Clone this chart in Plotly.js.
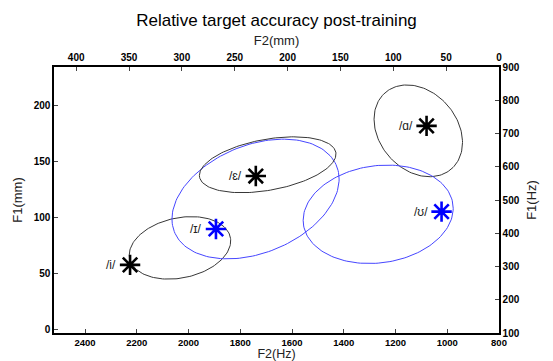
<!DOCTYPE html>
<html>
<head>
<meta charset="utf-8">
<script src="https://cdn.plot.ly/plotly-3.0.1.min.js"></script>
<style>html,body{margin:0;padding:0;background:#fff;}#chart{width:553px;height:361px;}</style>
</head>
<body>
<div id="chart"></div>
<script>
// Vowel targets (F2 in Hz, F1 in Hz)
const vowels = ['/i/', '/ɪ/', '/ɛ/', '/ɑ/', '/ʊ/'];
const f2Hz = [2226, 1894, 1740, 1080, 1022];
const f1Hz = [305, 413, 572, 723, 465];
const vowelColors = ['black', 'blue', 'black', 'black', 'blue'];

// Ellipses: centre, half-width (F2), half-height (F1), F1 offset at the max-F2 point
const ellCx = [2033, 1741, 1694, 1112, 1267];
const ellCy = [356, 503, 606, 708, 457];
const ellHx = [196, 323, 264, 171, 290];
const ellHy = [94, 180, 84, 138, 148];
const ellRy = [-21, -60, -32, 35, -18];
const ellColors = ['rgb(55,55,55)', 'rgb(70,70,255)', 'rgb(55,55,55)', 'rgb(55,55,55)', 'rgb(70,70,255)'];

// Axis ticks
const f2HzTicks = [2400, 2200, 2000, 1800, 1600, 1400, 1200, 1000, 800];
const f2mmTicks = [400, 350, 300, 250, 200, 150, 100, 50, 0];
const f1HzTicks = [100, 200, 300, 400, 500, 600, 700, 800, 900];
const f1mmTicks = [0, 50, 100, 150, 200];

const traces = [];
for (let k = 0; k < vowels.length; k++) {
  const phi = Math.acos(ellRy[k] / ellHy[k]);
  const xs = [], ys = [];
  const N = 160;
  for (let i = 0; i <= N; i++) {
    const t = 2 * Math.PI * i / N;
    xs.push(ellCx[k] + ellHx[k] * Math.cos(t));
    ys.push(ellCy[k] + ellHy[k] * Math.cos(t - phi));
  }
  traces.push({type: 'scatter', mode: 'lines', x: xs, y: ys, xaxis: 'x', yaxis: 'y',
    line: {color: ellColors[k], width: 1}, hoverinfo: 'skip', showlegend: false});
}
traces.push({type: 'scatter', mode: 'markers', x: f2Hz, y: f1Hz, xaxis: 'x', yaxis: 'y',
  marker: {symbol: 'asterisk-open', size: 17, color: vowelColors, line: {color: vowelColors, width: 2.6}},
  showlegend: false});
// empty trace so the mm axes exist
traces.push({type: 'scatter', mode: 'markers', x: [], y: [], xaxis: 'x2', yaxis: 'y2', showlegend: false});

const tickFont = {family: 'Liberation Sans, Arial, sans-serif', size: 10, color: 'black', weight: 'bold'};
const titleFont = {family: 'Liberation Sans, Arial, sans-serif', size: 13, color: '#222'};
const common = {showline: true, linecolor: 'black', linewidth: 1.6, ticks: 'inside', ticklen: 4,
  tickcolor: '#444', tickwidth: 1, showgrid: false, zeroline: false, tickfont: tickFont, fixedrange: true};

const annotations = vowels.map((v, i) => ({
  x: f2Hz[i], y: f1Hz[i], xref: 'x', yref: 'y', text: v, showarrow: false,
  xanchor: 'right', yanchor: 'middle', xshift: -12,
  font: {family: 'Liberation Sans, Arial, sans-serif', size: 12, color: '#222'}
}));

const layout = {
  width: 553, height: 361,
  margin: {l: 54, r: 54, t: 67, b: 28, pad: 0},
  paper_bgcolor: 'white', plot_bgcolor: 'white',
  title: {text: 'Relative target accuracy post-training', x: 0.5, xanchor: 'center', y: 0.945, yanchor: 'middle',
    font: {family: 'Liberation Sans, Arial, sans-serif', size: 17, color: 'black'}},
  xaxis: Object.assign({}, common, {range: [2520, 800], tickvals: f2HzTicks, side: 'bottom', anchor: 'y',
    tickfont: Object.assign({}, tickFont, {size: 9.5}),
    title: {text: 'F2(Hz)', font: Object.assign({}, titleFont, {size: 12.5}), standoff: 3}}),
  xaxis2: Object.assign({}, common, {range: [421, 0], tickvals: f2mmTicks, side: 'top', overlaying: 'x', anchor: 'y2',
    title: {text: 'F2(mm)', font: titleFont, standoff: 4}}),
  yaxis: Object.assign({}, common, {range: [100, 900], tickvals: f1HzTicks, side: 'right', anchor: 'x',
    title: {text: 'F1(Hz)', font: titleFont, standoff: 8}}),
  yaxis2: Object.assign({}, common, {range: [-2.7, 234.8], tickvals: f1mmTicks, side: 'left', overlaying: 'y', anchor: 'x',
    title: {text: 'F1(mm)', font: titleFont, standoff: 8}}),
  annotations: annotations,
  showlegend: false
};

Plotly.newPlot('chart', traces, layout, {displayModeBar: false, staticPlot: true});
</script>
</body>
</html>
